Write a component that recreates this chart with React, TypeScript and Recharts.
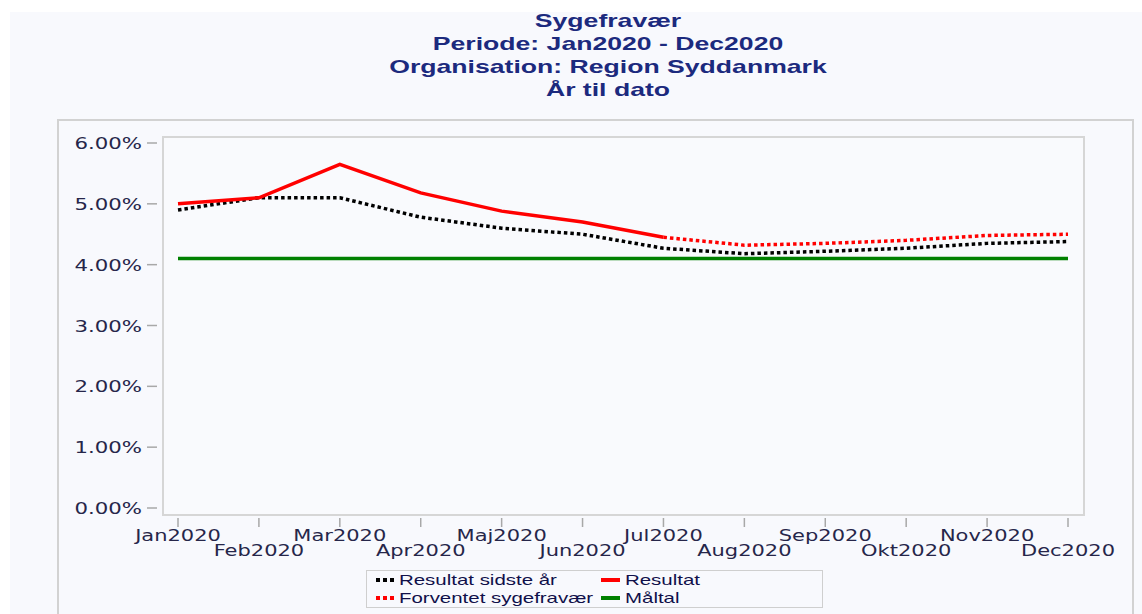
import { CartesianGrid, Line, LineChart, XAxis, YAxis } from "recharts";

// Sygefravær, Region Syddanmark, år til dato (2020)
const months = [
  "Jan2020", "Feb2020", "Mar2020", "Apr2020", "Maj2020", "Jun2020",
  "Jul2020", "Aug2020", "Sep2020", "Okt2020", "Nov2020", "Dec2020",
];
const resultatSidsteAar = [4.9, 5.1, 5.1, 4.78, 4.6, 4.5, 4.27, 4.18, 4.22, 4.27, 4.35, 4.38];
const resultat = [5.0, 5.1, 5.65, 5.18, 4.88, 4.7, 4.45, null, null, null, null, null];
const forventet = [null, null, null, null, null, null, 4.45, 4.32, 4.35, 4.4, 4.48, 4.5];
const maaltal = [4.1, 4.1, 4.1, 4.1, 4.1, 4.1, 4.1, 4.1, 4.1, 4.1, 4.1, 4.1];
const yTicks = [0, 1, 2, 3, 4, 5, 6];

const titleLines = [
  "Sygefravær",
  "Periode: Jan2020 - Dec2020",
  "Organisation: Region Syddanmark",
  "År til dato",
];

const BG = "#f8f9fd";
const NAVY = "#1c2a7e";
const TICK_TXT = "#26264a";
const STRETCH = 1.4; // the source picture is stretched sideways

const data = months.map((m, i) => ({
  month: m,
  sidste: resultatSidsteAar[i],
  resultat: resultat[i],
  forventet: forventet[i],
  maal: maaltal[i],
}));

function YTick({ x, y, payload }: any) {
  return (
    <g>
      <line x1={x - 15} x2={x - 5} y1={y} y2={y} stroke="#a8a8a8" strokeWidth={1.5} />
      <text
        transform={`translate(${x - 20},${y + 6}) scale(${STRETCH},1)`}
        textAnchor="end"
        fill={TICK_TXT}
        fontSize={15.2}
        fontFamily="DejaVu Sans"
      >
        {payload.value.toFixed(2)}%
      </text>
    </g>
  );
}

function XTick({ x, y, payload, index }: any) {
  const row = index % 2 === 0 ? 27 : 42;
  return (
    <g>
      <line x1={x} x2={x} y1={y + 4} y2={y + 13} stroke="#a8a8a8" strokeWidth={1.5} />
      <text
        transform={`translate(${x},${y + row}) scale(${STRETCH},1)`}
        textAnchor="middle"
        fill={TICK_TXT}
        fontSize={15}
        fontFamily="DejaVu Sans"
      >
        {payload.value}
      </text>
    </g>
  );
}

function Dots({ color }: { color: string }) {
  return (
    <span style={{ display: "inline-flex", gap: 3, width: 18 }}>
      {[0, 1, 2].map((i) => (
        <span key={i} style={{ width: 4, height: 4, background: color }} />
      ))}
    </span>
  );
}

function Bar({ color }: { color: string }) {
  return <span style={{ display: "inline-block", width: 19, height: 4, background: color }} />;
}

const legendItems = [
  { label: "Resultat sidste år", sym: <Dots color="#000" />, left: 376, top: 571 },
  { label: "Resultat", sym: <Bar color="#ff0000" />, left: 601, top: 571 },
  { label: "Forventet sygefravær", sym: <Dots color="#ff0000" />, left: 376, top: 589 },
  { label: "Måltal", sym: <Bar color="#008000" />, left: 601, top: 589 },
];

export default function App() {
  return (
    <div
      style={{
        position: "absolute",
        left: 0,
        top: 0,
        width: 1142,
        height: 614,
        background: "#fff",
        overflow: "hidden",
        fontFamily: "Liberation Sans, Arial, sans-serif",
      }}
    >
      <div style={{ position: "absolute", left: 10, top: 12, width: 1132, height: 602, background: BG }} />
      {titleLines.map((t, i) => (
        <div
          key={t}
          style={{
            position: "absolute",
            left: 608 - 300,
            width: 600,
            top: 9 + i * 23,
            textAlign: "center",
            fontSize: 19,
            lineHeight: "23px",
            fontWeight: "bold",
            color: NAVY,
            transform: `scaleX(${STRETCH})`,
          }}
        >
          {t}
        </div>
      ))}
      <div
        style={{
          position: "absolute",
          left: 57,
          top: 119,
          width: 1073,
          height: 520,
          border: "2px solid #d2d2d2",
        }}
      />
      <div style={{ position: "absolute", left: 57, top: 119 }}>
        <LineChart width={1075} height={495} data={data} margin={{ top: 17, right: 49, left: 0, bottom: 0 }}>
          <CartesianGrid horizontal={false} vertical={false} fill="#f9fafd" />
          <XAxis
            dataKey="month"
            interval={0}
            height={100}
            tickSize={0}
            tickMargin={0}
            tickLine={false}
            axisLine={false}
            padding={{ left: 16, right: 15 }}
            tick={<XTick />}
          />
          <YAxis
            width={105}
            domain={[0, 6]}
            ticks={yTicks}
            tickSize={0}
            tickMargin={0}
            tickLine={false}
            axisLine={false}
            padding={{ top: 7, bottom: 6 }}
            tick={<YTick />}
          />
          <Line dataKey="maal" stroke="#008000" strokeWidth={3.5} dot={false} isAnimationActive={false} />
          <Line
            dataKey="sidste"
            stroke="#000"
            strokeWidth={3.5}
            strokeDasharray="3.5 3"
            dot={false}
            isAnimationActive={false}
          />
          <Line
            dataKey="forventet"
            stroke="#ff0000"
            strokeWidth={3.5}
            strokeDasharray="3.5 3"
            dot={false}
            isAnimationActive={false}
          />
          <Line dataKey="resultat" stroke="#ff0000" strokeWidth={3.5} dot={false} isAnimationActive={false} />
        </LineChart>
      </div>
      <div
        style={{
          position: "absolute",
          left: 162,
          top: 136,
          width: 919,
          height: 376,
          border: "2px solid #d6d6d6",
          pointerEvents: "none",
        }}
      />
      <div
        style={{
          position: "absolute",
          left: 366,
          top: 570,
          width: 455,
          height: 36,
          border: "1px solid #cfcfcf",
          background: BG,
        }}
      />
      {legendItems.map((it) => (
        <div
          key={it.label}
          style={{
            position: "absolute",
            left: it.left,
            top: it.top,
            height: 18,
            display: "flex",
            alignItems: "center",
            gap: 5,
            fontSize: 14.6,
            color: "#10104a",
          }}
        >
          {it.sym}
          <span style={{ display: "inline-block", transform: `scaleX(${STRETCH})`, transformOrigin: "left center" }}>
            {it.label}
          </span>
        </div>
      ))}
    </div>
  );
}
